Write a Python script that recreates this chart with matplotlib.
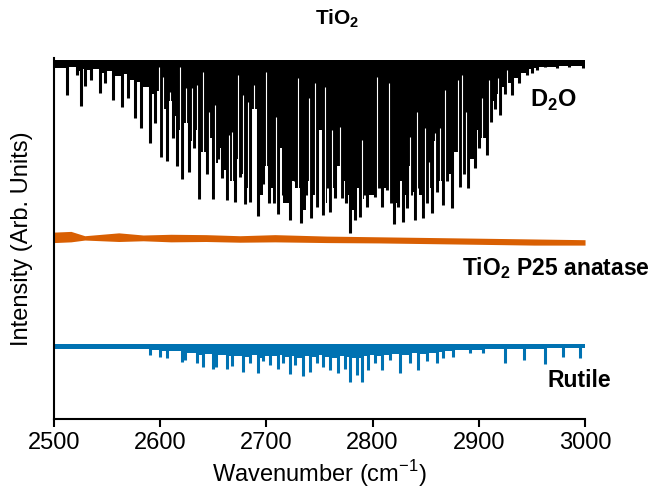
import matplotlib
matplotlib.use("Agg")
import matplotlib.pyplot as plt

plt.rcParams['font.family'] = ['Liberation Sans', 'DejaVu Sans']
plt.rcParams['mathtext.fontset'] = 'custom'
plt.rcParams['mathtext.rm'] = 'Liberation Sans'
plt.rcParams['mathtext.bf'] = 'Liberation Sans:bold'

# D2O spectrum (offset, arb. units)
d2o_top = 99.4
d2o_base = 98.6
# absorption lines: position and minimum
d2o_wn = [2512, 2522, 2525, 2529, 2535, 2543, 2548, 2556, 2564, 2570,
          2576, 2582, 2590, 2595, 2601, 2606, 2612, 2616, 2621, 2627,
          2632, 2637, 2644, 2650, 2654, 2658, 2663, 2670, 2675, 2680,
          2685, 2692, 2697, 2702, 2707, 2711, 2716, 2722, 2727, 2733,
          2737, 2742, 2748, 2753, 2757, 2760, 2765, 2771, 2775, 2779,
          2783, 2788, 2792, 2795, 2802, 2806, 2809, 2814, 2817, 2820,
          2824, 2829, 2832, 2836, 2840, 2844, 2847, 2851, 2856, 2861,
          2866, 2870, 2875, 2882, 2886, 2890, 2896, 2900, 2908, 2911,
          2915, 2920, 2925, 2931, 2938, 2945, 2950, 2955, 2962, 2974,
          2985, 2998]
d2o_depth = [89.8, 95.3, 86.7, 92.2, 94.0, 90.3, 93.0, 88.4, 86.4, 89.0,
             83.4, 80.6, 76.5, 82.0, 72.6, 71.5, 78.0, 70.0, 66.5, 68.4,
             75.0, 60.9, 68.0, 60.9, 72.0, 66.8, 60.7, 60.1, 67.0, 59.6,
             60.1, 56.2, 65.0, 59.8, 59.8, 56.8, 62.0, 55.1, 66.0, 54.3,
             62.0, 55.7, 58.7, 56.5, 64.0, 57.3, 61.2, 61.2, 60.0, 51.5,
             55.1, 56.0, 62.0, 58.7, 61.5, 64.0, 58.7, 63.4, 60.0, 54.0,
             58.7, 54.6, 58.4, 62.0, 55.1, 64.0, 55.7, 60.0, 57.1, 63.0,
             59.3, 66.0, 58.4, 64.3, 68.0, 64.0, 69.5, 75.0, 73.1, 82.3,
             86.0, 84.2, 90.0, 89.8, 93.0, 95.3, 96.0, 96.7, 97.5, 97.2,
             97.5, 97.2]
# level of the trace between neighbouring lines (2500 -> first line ... last line -> 3000)
d2o_gap = [97.2, 97.5, 96.5, 97.0, 96.8, 97.0, 96.0, 96.5, 95.0, 95.5,
           94.0, 93.5, 92.0, 90.0, 91.0, 86.0, 88.0, 84.0, 80.0, 82.0,
           77.0, 80.0, 74.0, 78.0, 71.0, 75.0, 69.0, 66.0, 72.0, 68.0,
           64.0, 86.0, 62.0, 70.0, 64.0, 63.0, 75.0, 60.0, 66.0, 64.0,
           58.0, 66.0, 62.0, 80.0, 60.0, 68.0, 64.0, 70.0, 66.0, 62.0,
           58.0, 64.0, 61.0, 66.0, 62.0, 85.0, 66.0, 64.0, 68.0, 64.0,
           60.0, 66.0, 62.0, 70.0, 63.0, 66.0, 62.0, 70.0, 64.0, 77.0,
           66.0, 70.0, 68.0, 74.0, 70.0, 74.0, 72.0, 80.0, 78.0, 85.0,
           88.0, 90.0, 92.0, 93.0, 94.5, 96.0, 97.0, 97.3, 97.5, 97.6,
           97.8, 97.8, 97.8]
# narrow openings in the dense region: position and how high they reach
d2o_slit_wn = [2599, 2603, 2609, 2618.5, 2624.5, 2630, 2634.5, 2640, 2646, 2652,
               2665, 2668, 2673, 2678, 2682.5, 2688, 2699.5, 2709, 2729.5, 2740,
               2746, 2755, 2762, 2769, 2790, 2804, 2815.5, 2835, 2842, 2849,
               2853.5, 2858.5, 2863.5, 2868, 2880, 2884, 2888, 2903, 2909.5, 2918,
               2927]
d2o_slit_top = [97.5, 94.7, 90.6, 97.5, 91.7, 91.7, 92.5, 96.1, 85.0, 87.0,
                78.7, 79.5, 95.3, 89.8, 87.8, 92.5, 96.1, 83.7, 94.5, 88.9,
                93.1, 92.0, 80.1, 80.9, 77.3, 94.7, 93.1, 78.1, 85.0, 80.6,
                71.2, 79.2, 80.6, 91.1, 93.9, 95.3, 85.0, 88.9, 93.9, 94.5,
                96.7]

# TiO2 P25 anatase: noisy band, upper and lower edges
anatase_wn = [2500, 2516, 2529, 2561, 2584, 2610, 2643, 2675, 2708, 2757, 2806, 2855,
              2904, 2952, 3000]
anatase_hi = [51.8, 52.0, 50.8, 51.6, 51.0, 51.2, 51.1, 50.8, 51.1, 50.7, 50.5, 50.3,
              50.1, 49.9, 49.7]
anatase_lo = [48.9, 49.1, 49.6, 49.2, 49.4, 49.1, 49.2, 49.0, 49.1, 48.9, 48.8, 48.6,
              48.4, 48.2, 48.2]

# Rutile
rutile_top = 20.8
rutile_base = 20.2
rutile_wn = [2590, 2600, 2606, 2621, 2623, 2635, 2640, 2650, 2653, 2663,
             2668, 2678, 2685, 2692, 2697, 2703, 2711, 2716, 2722, 2727,
             2734, 2741, 2748, 2753, 2760, 2767, 2774, 2779, 2785, 2790,
             2796, 2802, 2809, 2816, 2826, 2835, 2843, 2851, 2861, 2866,
             2876, 2892, 2904, 2925, 2943, 2962, 2979, 2995]
rutile_depth = [17.7, 17.2, 16.9, 15.8, 16.5, 15.5, 14.4, 13.9, 14.5, 13.9,
                14.7, 13.0, 15.5, 12.7, 16.0, 15.0, 13.9, 15.5, 12.5, 15.0,
                11.9, 13.0, 15.5, 14.4, 13.6, 12.7, 14.0, 10.2, 12.2, 10.2,
                13.6, 15.5, 13.6, 16.5, 12.7, 15.5, 13.6, 16.2, 15.5, 16.8,
                17.2, 18.3, 18.3, 15.5, 16.3, 15.2, 17.2, 16.9]
rutile_gap = [19.5,
              19.0, 18.8, 18.8, 18.4, 18.2, 17.8, 18.0, 17.5, 17.8, 17.5,
              17.6, 17.2, 17.8, 17.0, 17.5, 17.4, 17.8, 17.2, 17.6, 17.0,
              17.5, 17.2, 17.8, 17.3, 17.0, 17.5, 17.2, 17.0, 16.8, 17.4,
              17.8, 17.5, 17.8, 18.0, 17.8, 18.2, 18.0, 18.4, 18.6, 18.8,
              19.0, 19.2, 19.4, 19.5, 19.5, 19.6, 19.6, 19.6]

black = 'black'
orange = '#d95f02'
blue = '#0072b2'

fig = plt.figure(figsize=(6.68, 4.93), dpi=100)
ax = fig.add_axes([0.0808, 0.150, 0.795, 0.732])

ax.stairs(d2o_gap, [2500] + d2o_wn + [3000], baseline=d2o_top, fill=True, color=black, lw=0)
ax.vlines(d2o_wn, d2o_depth, d2o_base, color=black, lw=2.2)
ax.vlines(d2o_slit_wn, 53, d2o_slit_top, color='white', lw=0.8)

ax.fill_between(anatase_wn, anatase_lo, anatase_hi, color=orange, lw=0)

ax.stairs(rutile_gap, [2500] + rutile_wn + [3000], baseline=rutile_top, fill=True, color=blue, lw=0)
ax.vlines(rutile_wn, rutile_depth, rutile_base, color=blue, lw=2.2)

ax.set_xlim(2500, 3000)
ax.set_ylim(0, 100)
ax.set_xticks([2500, 2600, 2700, 2800, 2900, 3000])
ax.set_yticks([])
ax.tick_params(axis='x', labelsize=17, width=1.5, length=6)
for s in ['top', 'right']:
    ax.spines[s].set_visible(False)
for s in ['left', 'bottom']:
    ax.spines[s].set_linewidth(1.5)

ax.set_xlabel('Wavenumber (cm$^{-1}$)', fontsize=17, labelpad=3)
ax.set_ylabel('Intensity (Arb. Units)', fontsize=17)
ax.yaxis.set_label_coords(-0.04, 0.5)

fig.text(0.505, 0.963, r'TiO$_\mathbf{2}$', fontsize=15, fontweight='bold',
         ha='center', va='center')
ax.text(2948, 88.4, r'D$_\mathbf{2}$O', fontsize=17, fontweight='bold',
        va='center', ha='left', clip_on=False)
ax.text(2884, 41.8, r'TiO$_\mathbf{2}$ P25 anatase', fontsize=16.5, fontweight='bold',
        va='center', ha='left', clip_on=False)
ax.text(2965, 10.8, 'Rutile', fontsize=16.5, fontweight='bold',
        va='center', ha='left', clip_on=False)

fig.savefig('out.png', dpi=100)
